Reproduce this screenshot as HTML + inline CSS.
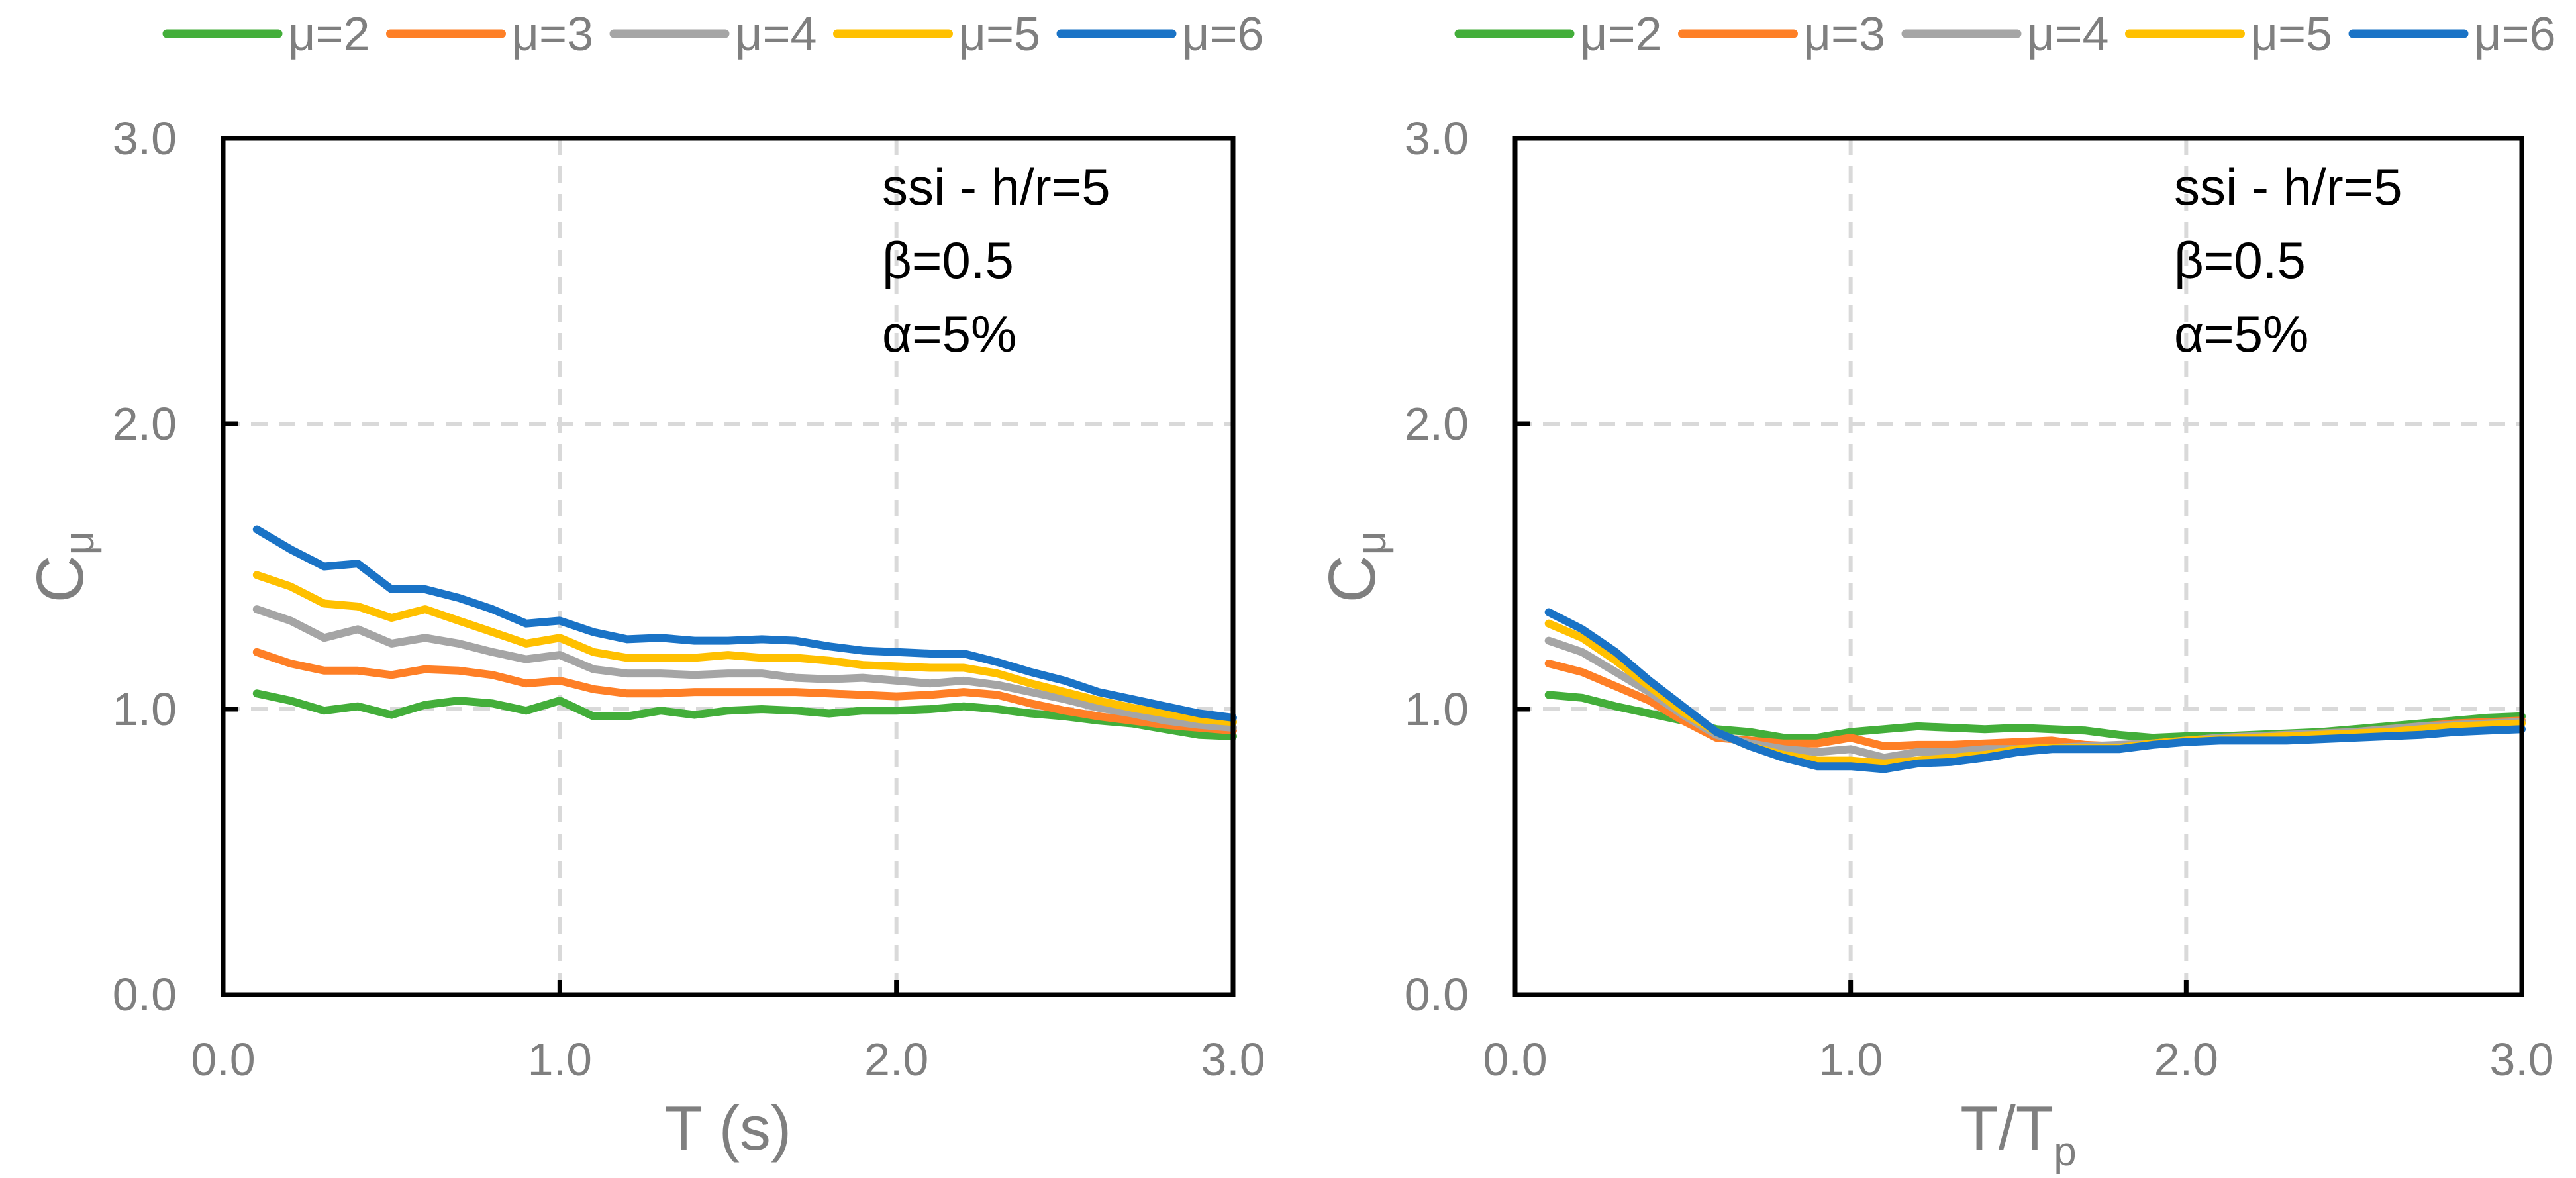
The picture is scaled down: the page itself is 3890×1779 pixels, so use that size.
<!DOCTYPE html>
<html><head><meta charset="utf-8"><style>
html,body{margin:0;padding:0;background:#fff;}
svg{display:block;font-family:"Liberation Sans",sans-serif;}
</style></head><body>
<svg id="chart" width="3890" height="1779" viewBox="0 0 3890 1779" xmlns="http://www.w3.org/2000/svg"></svg>
<script>
const xValues = [0.1,0.2,0.3,0.4,0.5,0.6,0.7,0.8,0.9,1.0,1.1,1.2,1.3,1.4,1.5,1.6,1.7,1.8,1.9,2.0,2.1,2.2,2.3,2.4,2.5,2.6,2.7,2.8,2.9,3.0];
const seriesNames = ["μ=2","μ=3","μ=4","μ=5","μ=6"];
const seriesColors = ["#43ae3a","#fe7f26","#a5a5a5","#ffc000","#1a73c6"];
const tickValues = [0,1,2,3];
const tickLabels = ["0.0","1.0","2.0","3.0"];
const leftMu2 = [1.055,1.03,0.995,1.01,0.98,1.015,1.03,1.02,0.995,1.03,0.975,0.975,0.995,0.98,0.995,1.0,0.995,0.985,0.995,0.995,1.0,1.01,1.0,0.985,0.975,0.96,0.95,0.93,0.91,0.905];
const leftMu3 = [1.2,1.16,1.135,1.135,1.12,1.14,1.135,1.12,1.09,1.1,1.07,1.055,1.055,1.06,1.06,1.06,1.06,1.055,1.05,1.045,1.05,1.06,1.05,1.02,0.995,0.975,0.96,0.945,0.935,0.925];
const leftMu4 = [1.35,1.31,1.25,1.28,1.23,1.25,1.23,1.2,1.175,1.19,1.14,1.125,1.125,1.12,1.125,1.125,1.11,1.105,1.11,1.1,1.09,1.1,1.085,1.06,1.035,1.005,0.985,0.96,0.945,0.935];
const leftMu5 = [1.47,1.43,1.37,1.36,1.32,1.35,1.31,1.27,1.23,1.25,1.2,1.18,1.18,1.18,1.19,1.18,1.18,1.17,1.155,1.15,1.145,1.145,1.125,1.09,1.06,1.03,1.005,0.985,0.965,0.955];
const leftMu6 = [1.63,1.56,1.5,1.51,1.42,1.42,1.39,1.35,1.3,1.31,1.27,1.245,1.25,1.24,1.24,1.245,1.24,1.22,1.205,1.2,1.195,1.195,1.165,1.13,1.1,1.06,1.035,1.01,0.985,0.97];
const rightMu2 = [1.05,1.04,1.01,0.985,0.96,0.93,0.92,0.9,0.9,0.92,0.93,0.94,0.935,0.93,0.935,0.93,0.925,0.91,0.9,0.905,0.905,0.91,0.915,0.92,0.93,0.94,0.95,0.96,0.97,0.975];
const rightMu3 = [1.16,1.13,1.08,1.03,0.96,0.9,0.89,0.88,0.88,0.9,0.87,0.875,0.875,0.88,0.885,0.89,0.875,0.87,0.88,0.89,0.9,0.905,0.91,0.915,0.92,0.93,0.94,0.95,0.955,0.96];
const rightMu4 = [1.24,1.2,1.13,1.06,0.98,0.91,0.88,0.86,0.85,0.86,0.83,0.85,0.85,0.86,0.86,0.865,0.87,0.875,0.88,0.89,0.9,0.905,0.91,0.915,0.92,0.93,0.94,0.945,0.95,0.955];
const rightMu5 = [1.3,1.25,1.17,1.08,0.99,0.92,0.87,0.84,0.82,0.82,0.81,0.82,0.83,0.84,0.86,0.865,0.865,0.865,0.88,0.89,0.895,0.9,0.905,0.91,0.915,0.92,0.93,0.94,0.945,0.95];
const rightMu6 = [1.34,1.28,1.2,1.1,1.01,0.92,0.87,0.83,0.8,0.8,0.79,0.81,0.815,0.83,0.85,0.86,0.86,0.86,0.875,0.885,0.89,0.89,0.89,0.895,0.9,0.905,0.91,0.92,0.925,0.93];

const NS = "http://www.w3.org/2000/svg";
const svg = document.getElementById("chart");
function mk(tag, attrs, parent, text) {
  const e = document.createElementNS(NS, tag);
  for (const k in attrs) e.setAttribute(k, attrs[k]);
  if (text !== undefined) e.textContent = text;
  (parent || svg).appendChild(e);
  return e;
}

function drawPanel(p) {
  const g = mk("g", {});
  
  
  const L = p.left, R = p.right, T = 209, B = 1502;
  const xs = v => L + (v / 3) * (R - L);
  const ys = v => B - (v / 3) * (B - T);
  tickValues.forEach(v => {
    if (v === 0) return;
    const hg = mk("line", {x1: L, x2: R, y1: ys(v), y2: ys(v), stroke: "#d9d9d9", "stroke-width": 6, "stroke-dasharray": "25 17"}, g);
    
    
    if (v < 3) {
      const vg = mk("line", {x1: xs(v), x2: xs(v), y1: T, y2: B, stroke: "#d9d9d9", "stroke-width": 6, "stroke-dasharray": "25 17"}, g);
      
      
    }
  });
  p.series.forEach((data, i) => {
    const d = data.map((v, j) => (j ? "L" : "M") + xs(xValues[j]).toFixed(1) + " " + ys(v).toFixed(1)).join(" ");
    const path = mk("path", {d: d, fill: "none", stroke: seriesColors[i], "stroke-width": 12, "stroke-linejoin": "round", "stroke-linecap": "round"}, g);
    
    
  });
  const fr = mk("rect", {x: L, y: T, width: R - L, height: B - T, fill: "none", stroke: "#000", "stroke-width": 7}, g);
  
  
  tickValues.forEach((v, i) => {
    const ty = mk("line", {x1: L, x2: L + 22, y1: ys(v), y2: ys(v), stroke: "#000", "stroke-width": 7}, g);
    
    
    const tx = mk("line", {x1: xs(v), x2: xs(v), y1: B, y2: B - 22, stroke: "#000", "stroke-width": 7}, g);
    
    
    const yl = mk("text", {x: L - 70, y: ys(v) + 24, "text-anchor": "end", "font-size": 70, fill: "#7f7f7f"}, g, tickLabels[i]);
    
    
    const xl = mk("text", {x: xs(v), y: 1624, "text-anchor": "middle", "font-size": 70, fill: "#7f7f7f"}, g, tickLabels[i]);
    
    
  });
  const yt = mk("text", {x: 0, y: 0, transform: "translate(" + (L - 212) + ",856) rotate(-90)", "text-anchor": "middle", "font-size": 100, fill: "#7f7f7f"}, g);
  
  
  mk("tspan", {}, yt, "C");
  mk("tspan", {dy: 16, "font-size": 64}, yt, "μ");
  const xt = mk("text", {x: (L + R) / 2, y: 1736, "text-anchor": "middle", "font-size": 94, fill: "#7f7f7f"}, g);
  
  
  if (p.sub) {
    mk("tspan", {}, xt, "T/T");
    mk("tspan", {dy: 24, "font-size": 62}, xt, "p");
  } else {
    xt.textContent = "T (s)";
  }
  const ann = ["ssi - h/r=5", "β=0.5", "α=5%"];
  ann.forEach((t, i) => {
    const a = mk("text", {x: L + 995, y: 309 + i * 111, "font-size": 78, fill: "#000"}, g, t);
    
    
  });
  seriesNames.forEach((n, i) => {
    const lx = p.legendX + i * 337.5;
    const lg = mk("g", {}, g);
    
    
    mk("line", {x1: lx, x2: lx + 168, y1: 51, y2: 51, stroke: seriesColors[i], "stroke-width": 13, "stroke-linecap": "round"}, lg);
    mk("text", {x: lx + 183, y: 76, "font-size": 72, fill: "#7f7f7f"}, lg, n);
  });
}

drawPanel({name: "left-panel-T", left: 337, right: 1862, legendX: 252, sub: false,
  series: [leftMu2, leftMu3, leftMu4, leftMu5, leftMu6]});
drawPanel({name: "right-panel-T-Tp", left: 2288, right: 3808, legendX: 2203, sub: true,
  series: [rightMu2, rightMu3, rightMu4, rightMu5, rightMu6]});
</script>
</body></html>
